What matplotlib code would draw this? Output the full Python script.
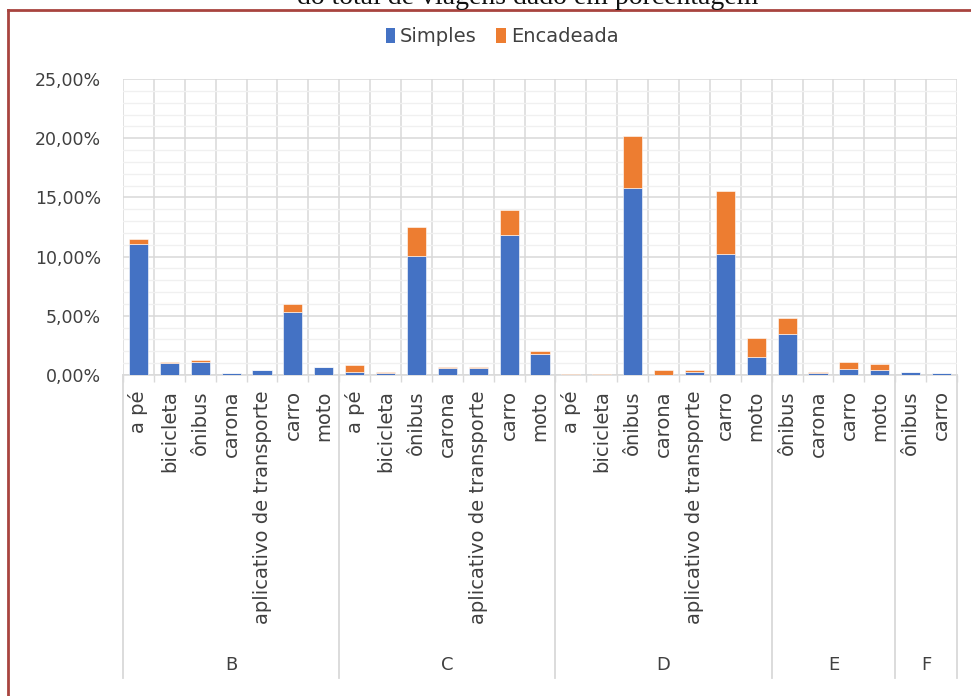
import matplotlib.pyplot as plt
import numpy as np
from matplotlib.lines import Line2D
from matplotlib.patches import Patch
from matplotlib.ticker import FuncFormatter, MultipleLocator

plt.rcParams["font.family"] = ["DejaVu Sans"]

# Categorias: região (grupo) e modo de transporte
groups = ["B", "C", "D", "E", "F"]
group_modes = [
    ["a pé", "bicicleta", "ônibus", "carona", "aplicativo de transporte", "carro", "moto"],
    ["a pé", "bicicleta", "ônibus", "carona", "aplicativo de transporte", "carro", "moto"],
    ["a pé", "bicicleta", "ônibus", "carona", "aplicativo de transporte", "carro", "moto"],
    ["ônibus", "carona", "carro", "moto"],
    ["ônibus", "carro"],
]

# Percentual do total de viagens
simples = [
    11.10, 1.00, 1.10, 0.17, 0.42, 5.35, 0.68,
    0.28, 0.15, 10.05, 0.55, 0.55, 11.80, 1.75,
    0.00, 0.00, 15.80, 0.00, 0.28, 10.20, 1.50,
    3.50, 0.17, 0.50, 0.40,
    0.28, 0.14,
]
encadeada = [
    0.42, 0.12, 0.15, 0.00, 0.00, 0.68, 0.00,
    0.54, 0.12, 2.42, 0.12, 0.12, 2.13, 0.28,
    0.12, 0.12, 4.40, 0.40, 0.14, 5.30, 1.60,
    1.30, 0.12, 0.56, 0.53,
    0.00, 0.00,
]

BLUE = "#4472C4"
ORANGE = "#ED7D31"
GRID = "#d9d9d9"
GRID_MINOR = "#f0f0f0"
TEXT = "#404040"

labels = [m for modes in group_modes for m in modes]
x = np.arange(len(labels))
s = np.array(simples)
e = np.array(encadeada)

fig = plt.figure(figsize=(9.71, 6.96), dpi=100)
ax = fig.add_axes([0.1267, 0.4612, 0.8589, 0.4253])

ax.bar(x, s, width=0.62, color=BLUE, edgecolor="white", linewidth=0.4, zorder=3)
ax.bar(x, e, width=0.62, bottom=s, color=ORANGE, edgecolor="white", linewidth=0.4, zorder=3)

ax.set_xlim(-0.5, len(labels) - 0.5)
ax.set_ylim(0, 25)

# eixo y em porcentagem com vírgula decimal
ax.yaxis.set_major_locator(MultipleLocator(5))
ax.yaxis.set_minor_locator(MultipleLocator(1))
ax.yaxis.set_major_formatter(FuncFormatter(lambda v, _: f"{v:.2f}%".replace(".", ",")))
ax.tick_params(axis="y", which="both", length=0, pad=16, labelsize=12.5, labelcolor=TEXT)

ax.set_xticks(x)
ax.set_xticklabels(labels, rotation=90, va="top", ha="center", fontsize=14, color=TEXT)
ax.set_xticks(np.arange(len(labels) + 1) - 0.5, minor=True)
ax.tick_params(axis="x", which="major", length=0, pad=11)
ax.tick_params(axis="x", which="minor", length=5, color=GRID, width=1)

ax.grid(which="major", axis="y", color=GRID, linewidth=1.1, zorder=0)
ax.grid(which="minor", axis="y", color=GRID_MINOR, linewidth=1.0, zorder=0)
ax.grid(which="minor", axis="x", color=GRID, linewidth=1.1, zorder=0)
ax.set_axisbelow(True)

for side in ["left", "right", "top"]:
    ax.spines[side].set_visible(False)
ax.spines["bottom"].set_color(GRID)
ax.spines["bottom"].set_linewidth(1.1)

# segundo nível do eixo x: separadores e rótulos dos grupos
trans = ax.get_xaxis_transform()
start = 0
edges = [-0.5]
for g, modes in zip(groups, group_modes):
    end = start + len(modes)
    edges.append(end - 0.5)
    ax.text((start + end - 1) / 2, -0.98, g, transform=trans, ha="center", va="center",
            fontsize=13, color=TEXT)
    start = end
for xe in edges:
    ax.add_line(Line2D([xe, xe], [0, -1.024], transform=trans, color=GRID, linewidth=1.3,
                       clip_on=False))

handles = [Patch(facecolor=BLUE, label="Simples"), Patch(facecolor=ORANGE, label="Encadeada")]
fig.legend(handles=handles, loc="center", bbox_to_anchor=(0.517, 0.947), ncol=2, frameon=False,
           fontsize=14, handlelength=0.5, handleheight=0.8, handletextpad=0.25, columnspacing=1.0,
           labelcolor=TEXT)

# moldura e legenda do documento
fig.add_artist(Line2D([0.0082, 1.0], [0.986, 0.986], transform=fig.transFigure,
                      color="#a8443f", linewidth=2))
fig.add_artist(Line2D([0.0082, 0.0082], [0.0, 0.986], transform=fig.transFigure,
                      color="#a8443f", linewidth=2))
fig.text(0.543, 0.9945, "do total de viagens dado em porcentagem", ha="center", va="baseline",
         fontsize=20, family="Liberation Serif", color="#111111")

fig.savefig("out.png", dpi=100)
